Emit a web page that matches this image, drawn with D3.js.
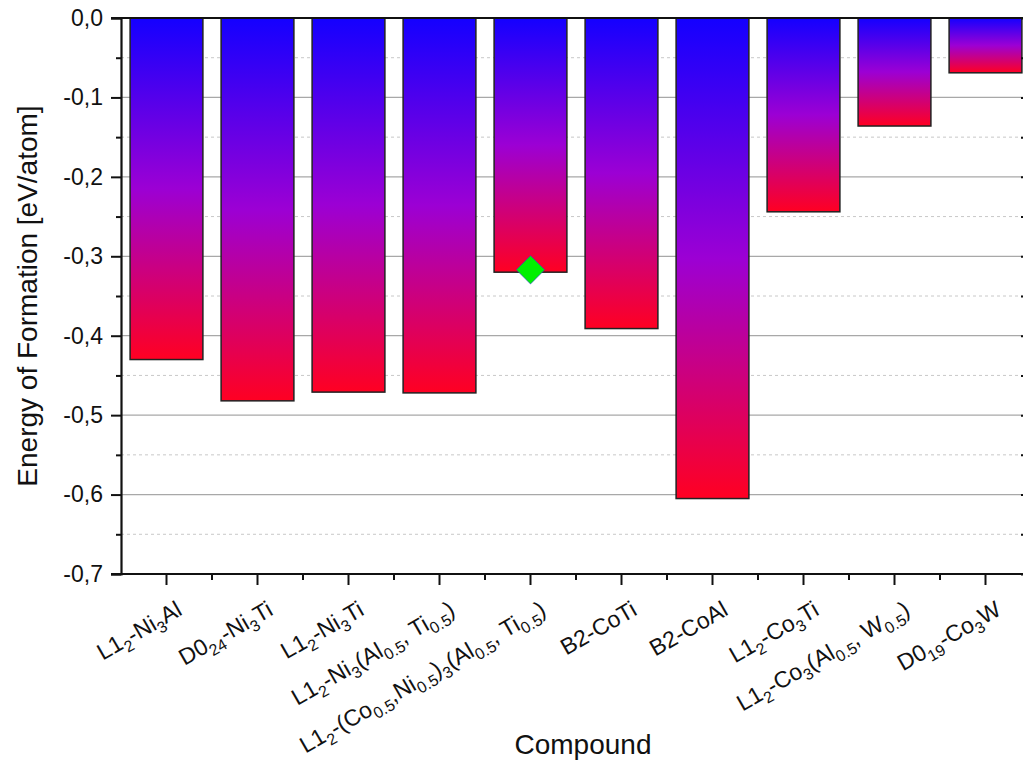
<!DOCTYPE html>
<html lang="en">
<head>
	<meta charset="UTF-8"/>
	<title>Energy of Formation</title>
	<script src="https://d3js.org/d3.v7.min.js"></script>
	<style>
		body { margin: 0; background: #fff; }
		svg { display: block; font-family: "Liberation Sans", Arial, sans-serif; }
	</style>
</head>
<body>
<script>
	var w = 1023;	// Width of the SVG
	var h = 763;	// Height of the SVG

	// compounds, _{..} marks a subscript
	var categories = [
		"L1_{2}-Ni_{3}Al",
		"D0_{24}-Ni_{3}Ti",
		"L1_{2}-Ni_{3}Ti",
		"L1_{2}-Ni_{3}(Al_{0.5}, Ti_{0.5})",
		"L1_{2}-(Co_{0.5},Ni_{0.5})_{3}(Al_{0.5}, Ti_{0.5})",
		"B2-CoTi",
		"B2-CoAl",
		"L1_{2}-Co_{3}Ti",
		"L1_{2}-Co_{3}(Al_{0.5}, W_{0.5})",
		"D0_{19}-Co_{3}W"
	];
	// energy of formation, eV/atom
	var energies = [-0.430, -0.482, -0.471, -0.472, -0.320, -0.391, -0.605, -0.244, -0.136, -0.069];

	// single extra point (green diamond)
	var markerCats = [categories[4]];
	var markerVals = [-0.317];

	var yTicks = [0, -0.1, -0.2, -0.3, -0.4, -0.5, -0.6, -0.7];
	var yMinor = [-0.05, -0.15, -0.25, -0.35, -0.45, -0.55, -0.65];

	// plot area (note: "top" is taken by window.top)
	var plotL = 121, plotR = 1031, plotT = 18, plotB = 574;

	var xScale = d3.scaleBand()
		.domain(categories)
		.range([plotL, plotR])
		.paddingInner(0.2)
		.paddingOuter(0.1);

	var yScale = d3.scaleLinear()
		.domain([-0.7, 0])
		.range([plotB, plotT]);

	var svg = d3.select("body")
		.append("svg")
		.attr("width", w)
		.attr("height", h);

	// gradient blue (top) -> purple -> red (bottom), per bar
	var grad = svg.append("defs").append("linearGradient")
		.attr("id", "barGrad")
		.attr("x1", 0).attr("y1", 0).attr("x2", 0).attr("y2", 1);
	grad.append("stop").attr("offset", "0%").attr("stop-color", "#1400ff");
	grad.append("stop").attr("offset", "50%").attr("stop-color", "#9c00d4");
	grad.append("stop").attr("offset", "100%").attr("stop-color", "#ff0022");

	// minor grid, dashed
	svg.append("g")
		.selectAll("line")
		.data(yMinor)
		.enter()
		.append("line")
		.attr("x1", plotL).attr("x2", plotR)
		.attr("y1", function(d){ return yScale(d); })
		.attr("y2", function(d){ return yScale(d); })
		.attr("stroke", "#c8c8c8")
		.attr("stroke-width", 1)
		.attr("stroke-dasharray", "3,3");

	// major grid
	svg.append("g")
		.selectAll("line")
		.data(yTicks.slice(1, -1))
		.enter()
		.append("line")
		.attr("x1", plotL).attr("x2", plotR)
		.attr("y1", function(d){ return yScale(d); })
		.attr("y2", function(d){ return yScale(d); })
		.attr("stroke", "#a8a8a8")
		.attr("stroke-width", 1.2);

	// bars
	svg.selectAll("rect.bar")
		.data(energies)
		.enter()
		.append("rect")
		.attr("class", "bar")
		.attr("x", function(d, i){ return xScale(categories[i]); })
		.attr("y", yScale(0))
		.attr("width", xScale.bandwidth())
		.attr("height", function(d){ return yScale(d) - yScale(0); })
		.attr("fill", "url(#barGrad)")
		.attr("stroke", "#222")
		.attr("stroke-width", 1.5);

	// diamond marker
	svg.selectAll("path.marker")
		.data(markerVals)
		.enter()
		.append("path")
		.attr("class", "marker")
		.attr("d", d3.symbol().type(d3.symbolSquare).size(400))
		.attr("transform", function(d, i){
			return "translate(" + (xScale(markerCats[i]) + xScale.bandwidth() / 2) + "," + yScale(d) + ") rotate(45)";
		})
		.attr("fill", "#00f000")
		.attr("stroke", "#2a40d0")
		.attr("stroke-width", 0.6);

	var fmt = function(d){ return d.toFixed(1).replace(".", ",").replace("-0,0", "0,0"); };

	// left axis
	var yAxis = d3.axisLeft(yScale)
		.tickValues(yTicks)
		.tickSize(10)
		.tickPadding(8)
		.tickFormat(fmt);
	var gy = svg.append("g")
		.attr("transform", "translate(" + plotL + ",0)")
		.call(yAxis);
	gy.select(".domain").attr("stroke", "#111").attr("stroke-width", 2.2);
	gy.selectAll(".tick line").attr("stroke", "#111").attr("stroke-width", 2);
	gy.selectAll(".tick text")
		.attr("font-size", "23px")
		.attr("font-family", "Liberation Sans, Arial, sans-serif")
		.attr("fill", "#111");

	// left minor ticks
	svg.append("g")
		.attr("transform", "translate(" + plotL + ",0)")
		.call(d3.axisLeft(yScale).tickValues(yMinor).tickSize(5).tickFormat(""))
		.call(function(g){ g.select(".domain").remove(); })
		.selectAll(".tick line").attr("stroke", "#111").attr("stroke-width", 2);

	// right axis, ticks inward
	svg.append("line")
		.attr("x1", plotR).attr("x2", plotR)
		.attr("y1", plotT).attr("y2", plotB)
		.attr("stroke", "#111")
		.attr("stroke-width", 2.2);
	svg.append("g")
		.attr("transform", "translate(" + plotR + ",0)")
		.call(d3.axisLeft(yScale).tickValues(yTicks.concat(yMinor)).tickSize(-10).tickFormat(""))
		.call(function(g){ g.select(".domain").remove(); })
		.selectAll(".tick line")
		.attr("x2", 0).attr("x1", -10)
		.attr("stroke", "#111").attr("stroke-width", 2);

	// top frame
	svg.append("line")
		.attr("x1", plotL - 10).attr("x2", plotR)
		.attr("y1", yScale(0)).attr("y2", yScale(0))
		.attr("stroke", "#111")
		.attr("stroke-width", 2.2);

	// bottom axis, major ticks at bar centres
	var xAxis = d3.axisBottom(xScale)
		.tickSize(11)
		.tickFormat("");
	var gx = svg.append("g")
		.attr("transform", "translate(0," + plotB + ")")
		.call(xAxis);
	gx.select(".domain").attr("stroke", "#111").attr("stroke-width", 2.2)
		.attr("d", "M" + (plotL - 10) + ",0H" + plotR);
	gx.selectAll(".tick line").attr("stroke", "#111").attr("stroke-width", 2);

	// bottom minor ticks between bars
	var step = xScale.step();
	svg.append("g")
		.attr("transform", "translate(0," + plotB + ")")
		.selectAll("line")
		.data(categories.slice(1))
		.enter()
		.append("line")
		.attr("x1", function(d){ return xScale(d) + xScale.bandwidth() / 2 - step / 2; })
		.attr("x2", function(d){ return xScale(d) + xScale.bandwidth() / 2 - step / 2; })
		.attr("y1", 0).attr("y2", 6)
		.attr("stroke", "#111")
		.attr("stroke-width", 2);

	// rotated category labels with subscripts
	function writeLabel(sel, s) {
		var parts = s.split(/(_\{[^}]*\})/);
		parts.forEach(function(p){
			if (!p) return;
			if (p.charAt(0) === "_") {
				sel.append("tspan")
					.attr("font-size", "16px")
					.attr("dy", 6)
					.text(p.slice(2, -1));
				sel.append("tspan").attr("dy", -6).text("\u200b");
			} else {
				sel.append("tspan").text(p);
			}
		});
	}

	svg.append("g")
		.selectAll("text")
		.data(categories)
		.enter()
		.append("text")
		.attr("transform", function(d){
			return "translate(" + (xScale(d) + xScale.bandwidth() / 2 + 17) + "," + 614 + ") rotate(-30)";
		})
		.attr("text-anchor", "end")
		.attr("font-size", "23px")
		.attr("fill", "#111")
		.each(function(d){ writeLabel(d3.select(this), d); });

	// X axis label
	svg.append("text")
		.attr("x", 583)
		.attr("y", 754)
		.attr("text-anchor", "middle")
		.attr("font-size", "28px")
		.attr("fill", "#111")
		.text("Compound");

	// Y axis label
	svg.append("text")
		.attr("transform", "rotate(-90)")
		.attr("x", -296)
		.attr("y", 37)
		.attr("text-anchor", "middle")
		.attr("font-size", "28px")
		.attr("fill", "#111")
		.text("Energy of Formation [eV/atom]");
</script>
</body>
</html>
